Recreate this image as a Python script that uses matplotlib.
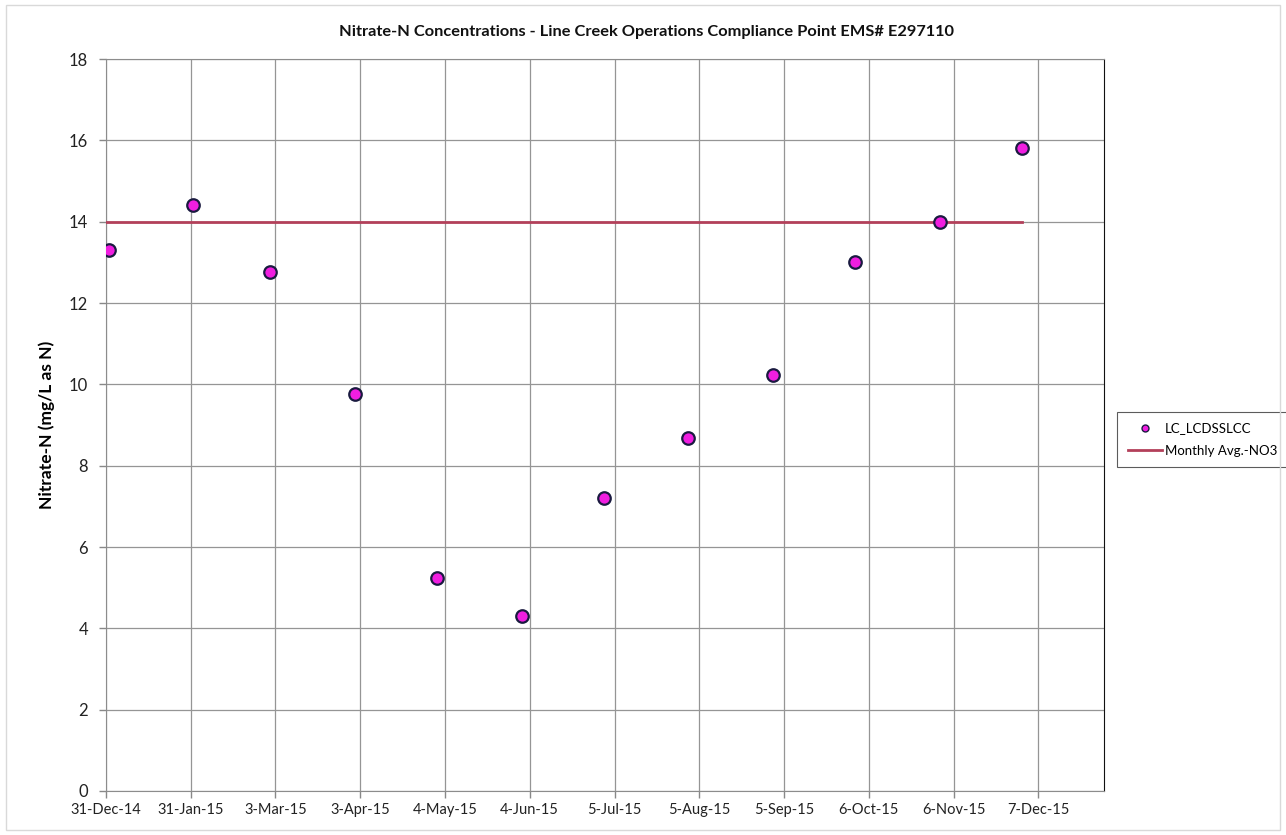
import numpy as np
import matplotlib.pyplot as plt
import matplotlib.dates as mdates
from matplotlib.patches import Rectangle
from datetime import date, timedelta

plt.rcParams['font.family'] = ['Lato', 'DejaVu Sans']

# sample data (monthly grab samples)
sample_dates = ['2015-01-01', '2015-02-01', '2015-03-01', '2015-04-01',
                '2015-05-01', '2015-06-01', '2015-07-01', '2015-08-01',
                '2015-09-01', '2015-10-01', '2015-11-01', '2015-12-01']
nitrate = [13.3, 14.4, 12.77, 9.77, 5.25, 4.3, 7.2, 8.67, 10.22, 13.0, 14.0, 15.8]

# monthly average limit
limit_dates = ['2014-12-31', '2015-12-01']
limit_vals = [14, 14]

x_start = date(2014, 12, 31)
x_end = date(2015, 12, 31)
tick_dates = [x_start + timedelta(days=31 * k) for k in range(12)]
tick_labels = ['%d-%s' % (d.day, d.strftime('%b-%y')) for d in tick_dates]

fig = plt.figure(figsize=(12.86, 8.35), dpi=100)
ax = fig.add_axes([0.0824, 0.0527, 0.776, 0.8766])

# faint outer chart border
fig.patches.append(Rectangle((0.005, 0.006), 0.99, 0.988, transform=fig.transFigure,
                             fill=False, edgecolor='#d9d9d9', linewidth=1))

sd = np.array(sample_dates, dtype='datetime64[D]')
ld = np.array(limit_dates, dtype='datetime64[D]')

ax.plot(ld, limit_vals, color='#b3405a', linewidth=2, label='Monthly Avg.-NO3', zorder=3)
ax.plot(sd, nitrate, linestyle='none', marker='o', markersize=9,
        markerfacecolor='#f01ee0', markeredgecolor='#1a1a40', markeredgewidth=1.6,
        label='LC_LCDSSLCC', zorder=4)

ax.set_xlim(mdates.date2num(x_start), mdates.date2num(x_end))
ax.set_ylim(0, 18)
ax.set_yticks(np.arange(0, 19, 2))
ax.set_xticks([mdates.date2num(d) for d in tick_dates])
ax.set_xticklabels(tick_labels, fontsize=10.5, color='#222222')
ax.tick_params(axis='y', labelsize=12, colors='#222222', length=5, width=1, direction='out', pad=8)
ax.tick_params(axis='x', length=5, width=1, direction='out', pad=4)
ax.tick_params(axis='both', color='#888888')

ax.grid(True, color='#959595', linewidth=0.9)
ax.set_axisbelow(True)
for s in ['left', 'top', 'bottom']:
    ax.spines[s].set_color('#8c8c8c')
ax.spines['right'].set_color('#111111')

ax.set_ylabel('Nitrate-N (mg/L as N)', fontsize=12.5, fontweight='bold', labelpad=10)
fig.text(0.503, 0.962, 'Nitrate-N Concentrations - Line Creek Operations Compliance Point EMS# E297110',
         ha='center', va='center', fontsize=11.8, fontweight='bold', color='#111111')

handles, labels = ax.get_legend_handles_labels()
leg = ax.legend(handles[::-1], labels[::-1], loc='center left', bbox_to_anchor=(1.007, 0.48),
                fontsize=9.5, frameon=True, fancybox=False, edgecolor='#333333',
                handlelength=2.6, borderpad=0.8, labelspacing=0.8, handletextpad=0.2)
leg.get_frame().set_linewidth(0.8)
leg.legend_handles[0].set_markersize(5)
leg.legend_handles[0].set_markeredgewidth(1.0)

fig.savefig('out.png', dpi=100)
